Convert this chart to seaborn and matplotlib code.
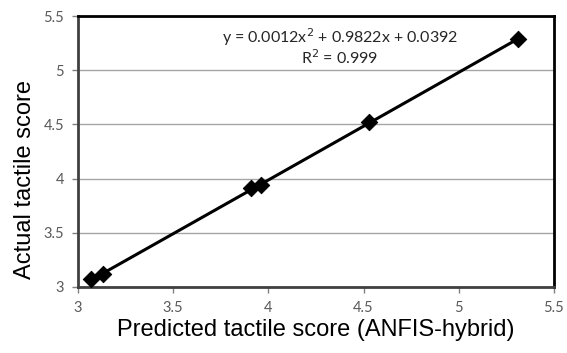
import numpy as np
import pandas as pd
import matplotlib
matplotlib.use("Agg")
import matplotlib.pyplot as plt
import seaborn as sns

predicted = [3.07, 3.13, 3.91, 3.96, 4.53, 5.31]
actual = [3.07, 3.12, 3.91, 3.94, 4.52, 5.29]
x_ticks = [3, 3.5, 4, 4.5, 5, 5.5]
y_ticks = [3, 3.5, 4, 4.5, 5, 5.5]
trend_coef = [0.0012, 0.9822, 0.0392]

sns.set_theme(style="white")
plt.rcParams['font.family'] = ['Liberation Sans', 'DejaVu Sans']

df = pd.DataFrame({"pred": predicted, "act": actual})

fig = plt.figure(figsize=(5.67, 3.53), dpi=100)
ax = fig.add_axes([78/567, 1-287/353, (554-78)/567, (287-16)/353])

xs = np.linspace(min(predicted), max(predicted), 100)
trend = pd.DataFrame({"x": xs, "y": np.polyval(trend_coef, xs)})
sns.lineplot(data=trend, x="x", y="y", ax=ax, color="black", lw=2.2, zorder=3)
sns.scatterplot(data=df, x="pred", y="act", ax=ax, marker="D", s=70,
                color="black", edgecolor="black", zorder=4)

ax.set_xlim(3, 5.5)
ax.set_ylim(3, 5.5)
ax.set_xticks(x_ticks)
ax.set_yticks(y_ticks)
ax.set_xticklabels([f"{t:g}" for t in x_ticks])
ax.set_yticklabels([f"{t:g}" for t in y_ticks])
ax.yaxis.grid(True, color="#a6a6a6", lw=1)
ax.xaxis.grid(False)
for s in ax.spines.values():
    s.set_color("black")
    s.set_linewidth(2)
ax.spines['left'].set_color("#404040")
ax.spines['bottom'].set_color("#404040")
ax.tick_params(axis="both", which="major", direction="out", length=4, width=1,
               color="#808080", labelsize=10.5, labelcolor="#595959", pad=6,
               bottom=True, left=True)
for lab in ax.get_xticklabels() + ax.get_yticklabels():
    lab.set_family(['Lato', 'DejaVu Sans'])

ax.set_xlabel("Predicted tactile score (ANFIS-hybrid)", fontsize=17, color="black", labelpad=3)
ax.set_ylabel("Actual tactile score", fontsize=17, color="black")
ax.yaxis.set_label_coords(-0.088, 0.395)

ax.text(0.55, 0.922, "y = 0.0012x$^2$ + 0.9822x + 0.0392", transform=ax.transAxes,
        ha="center", va="center", fontsize=11.5, color="#262626", family=['Lato', 'DejaVu Sans'])
ax.text(0.55, 0.845, "R$^2$ = 0.999", transform=ax.transAxes,
        ha="center", va="center", fontsize=11.5, color="#262626", family=['Lato', 'DejaVu Sans'])

fig.savefig("out.png", dpi=100)
